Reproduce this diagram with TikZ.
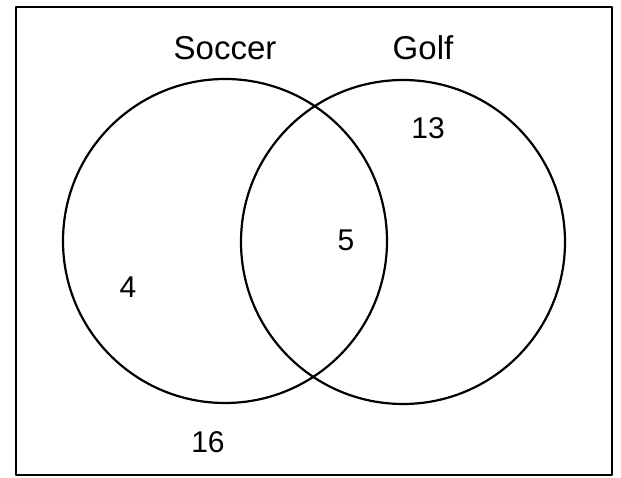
\documentclass[tikz,border=0pt]{standalone}
\usepackage{fontspec}
\setmainfont{Liberation Sans}
\begin{document}
\begin{tikzpicture}[x=1pt, y=1pt, line join=round, line cap=round,
		set/.style={draw, circle, line width=2.2pt, minimum size=324pt, inner sep=0pt},
		setname/.style={font=\fontsize{33}{37}\selectfont},
		count/.style={font=\fontsize{30}{34}\selectfont}]
			\useasboundingbox (0,0) rectangle (621,477);
			\draw[line width=2.2pt] (16,2) rectangle (612,470);
			\node[set] (soccer) at (225,236) {};
			\node[set] (golf) at (403,235) {};
			\node[setname] (soccerlabel) at (225,429) {Soccer};
			\node[setname] (golflabel) at (423,429) {Golf};
			\foreach \name/\x/\y/\n in {onlysoccer/128/190/4, both/346/237/5, onlygolf/428/349/13, neither/208/35/16} {
				\node[count] (\name) at (\x,\y) {\n};
			}
		\end{tikzpicture}
\end{document}
